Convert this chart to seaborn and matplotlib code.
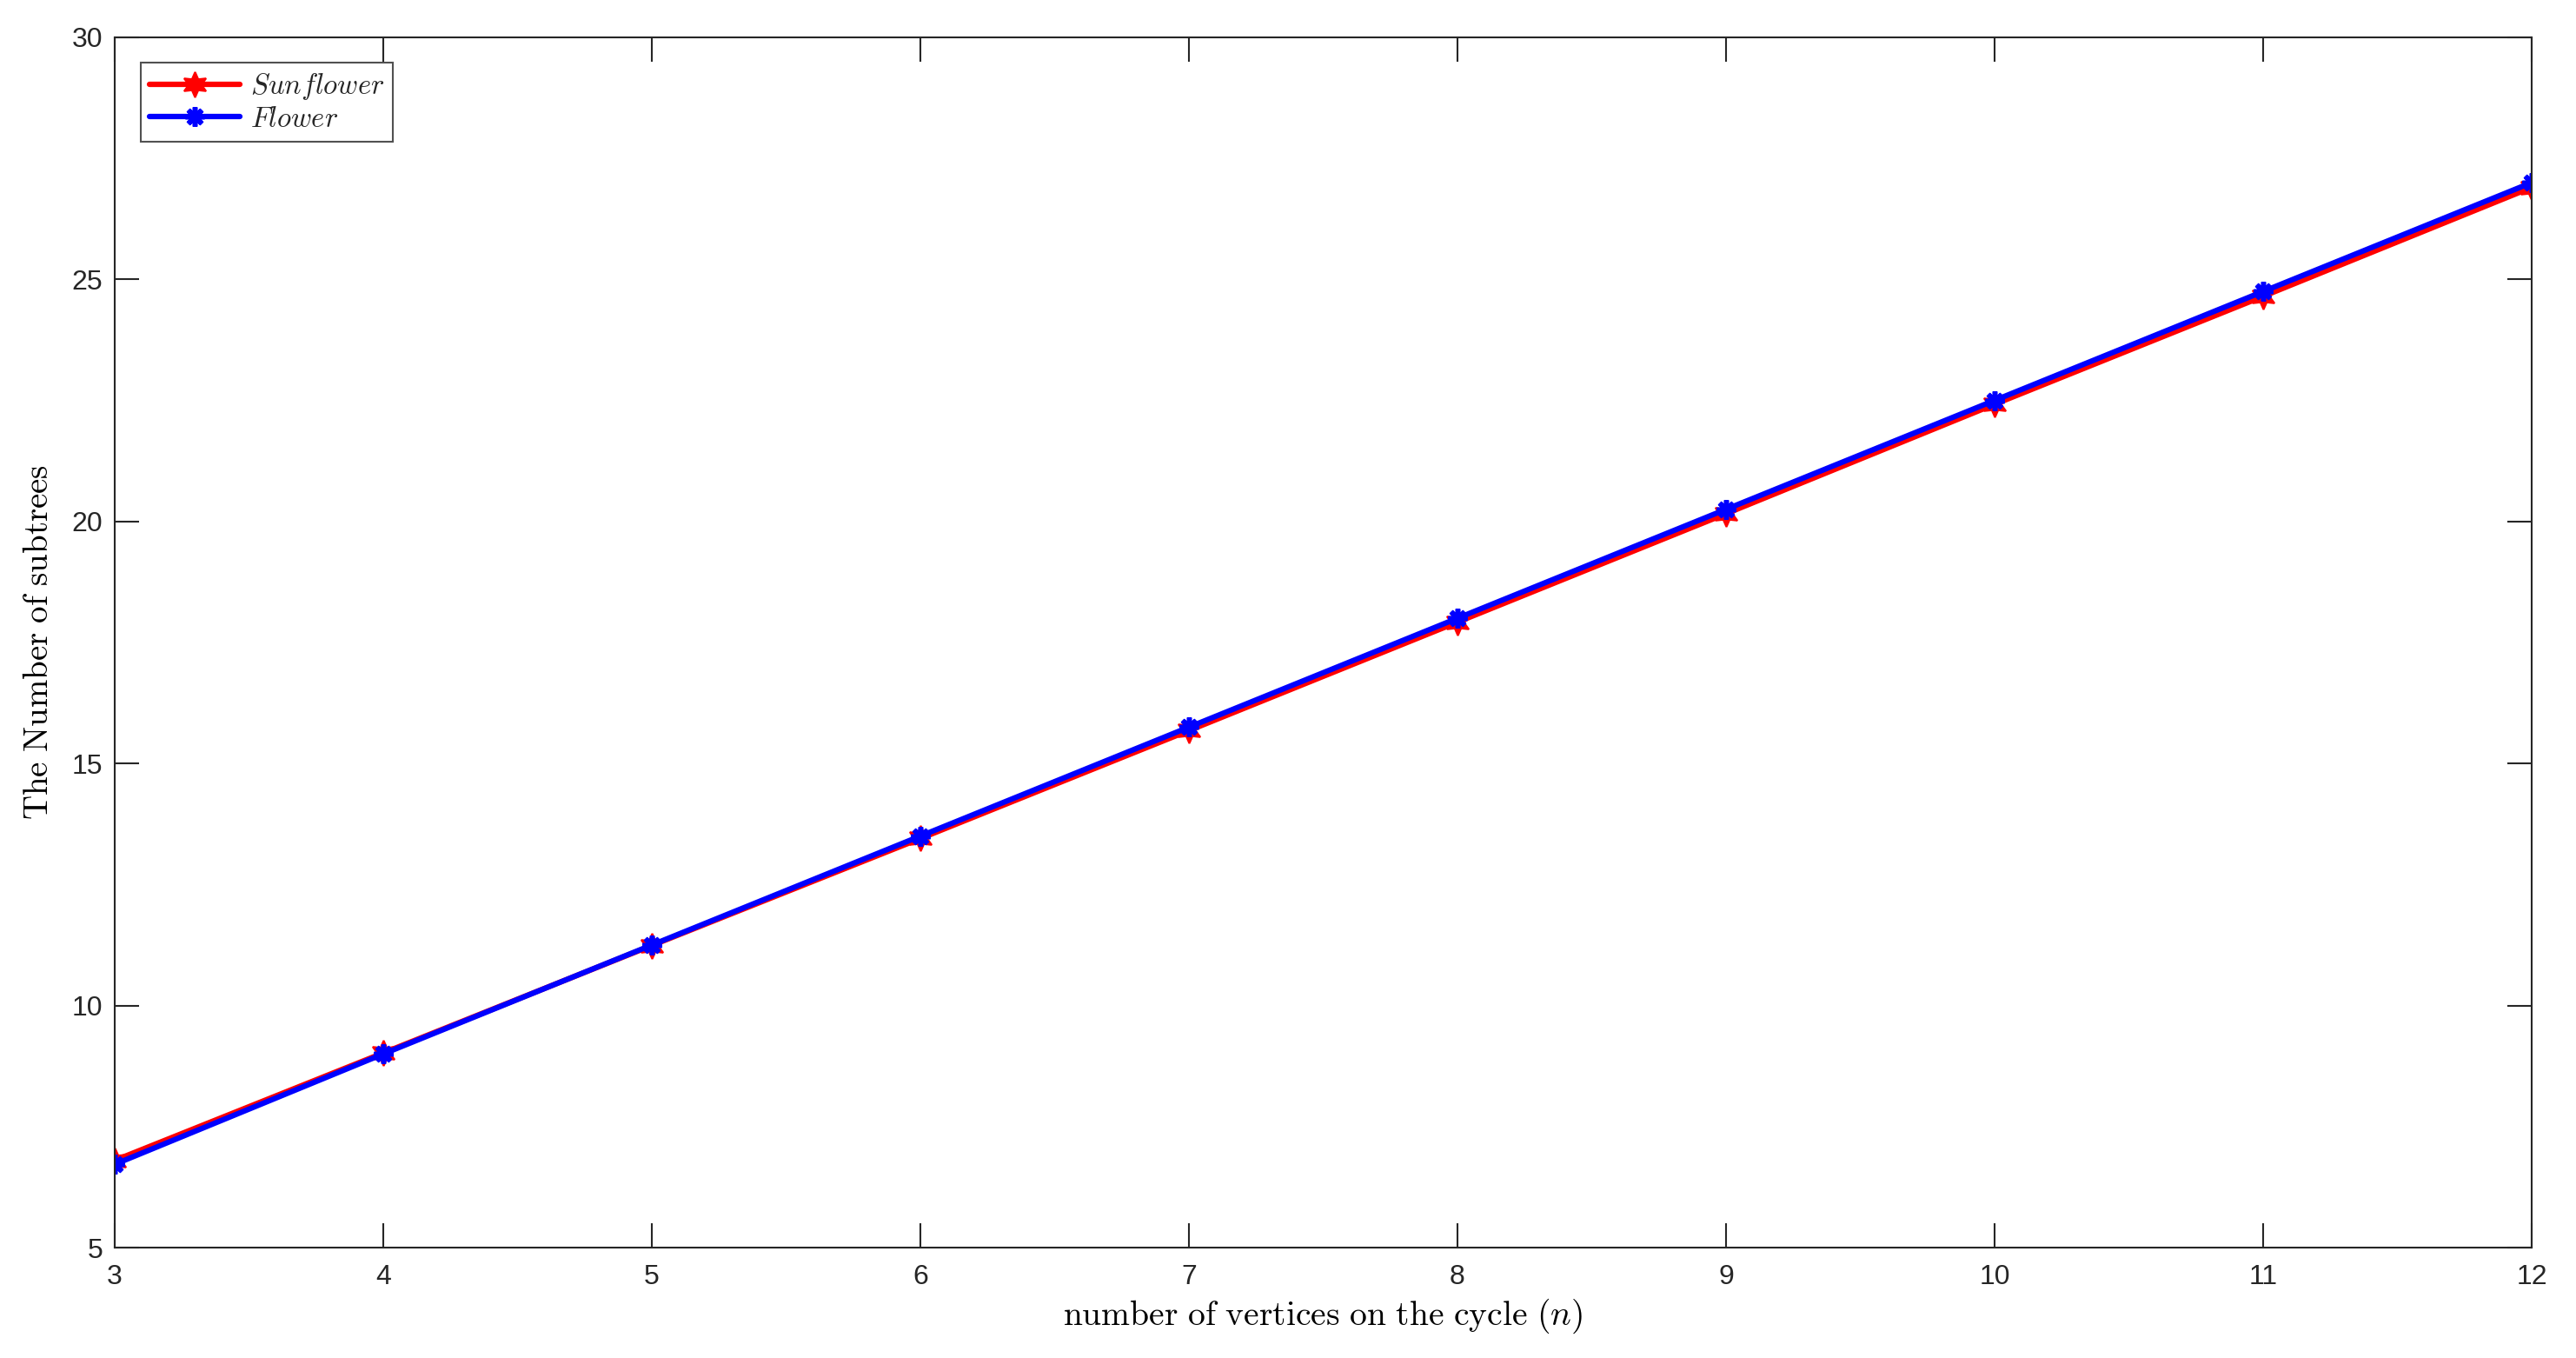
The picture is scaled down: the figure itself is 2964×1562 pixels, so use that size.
import numpy as np
import pandas as pd
import matplotlib
matplotlib.use("Agg")
import matplotlib.pyplot as plt
import seaborn as sns

n_values = [3, 4, 5, 6, 7, 8, 9, 10, 11, 12]
sunflower = [6.80, 9.02, 11.24, 13.45, 15.68, 17.92, 20.16, 22.42, 24.65, 26.90]
flower = [6.72, 9.00, 11.25, 13.50, 15.75, 18.00, 20.25, 22.50, 24.75, 27.00]
x_ticks = [3, 4, 5, 6, 7, 8, 9, 10, 11, 12]
y_ticks = [5, 10, 15, 20, 25, 30]

sns.set_style("white")
plt.rcParams['font.family'] = ['Liberation Sans', 'DejaVu Sans']
plt.rcParams['mathtext.fontset'] = 'cm'

df = pd.DataFrame({"n": n_values, "Sunflower": sunflower, "Flower": flower})

fig = plt.figure(figsize=(29.64, 15.62), dpi=100)
ax = fig.add_axes([0.0445, 0.0813, 0.9383, 0.8912])

sns.lineplot(data=df, x="n", y="Sunflower", ax=ax, color="#ff0000", lw=4.5,
             marker=(6, 1, 0), markersize=21, markerfacecolor="#ff0000",
             markeredgecolor="#ff0000", markeredgewidth=1.5,
             label=r"$Sunflower$")
sns.lineplot(data=df, x="n", y="Flower", ax=ax, color="#0000ff", lw=4.5,
             marker=(8, 2, 0), markersize=16, markeredgecolor="#0000ff",
             markeredgewidth=4, label=r"$Flower$")

ax.set_xlim(3, 12)
ax.set_ylim(5, 30)
ax.set_xticks(x_ticks)
ax.set_yticks(y_ticks)
ax.tick_params(direction="in", length=20, width=1.5, colors="#262626",
               labelsize=23, top=True, right=True, bottom=True, left=True)
ax.tick_params(axis="x", pad=14)
ax.tick_params(axis="y", pad=10)
for s in ax.spines.values():
    s.set_visible(True)
    s.set_color("#262626")
    s.set_linewidth(1.5)

ax.set_xlabel(r"$\mathrm{number\ of\ vertices\ on\ the\ cycle}\ (n)$", fontsize=28.5,
              color="black", labelpad=5)
ax.set_ylabel(r"$\mathrm{The\ Number\ of\ subtrees}$", fontsize=28,
              color="black", labelpad=14)

leg = ax.legend(loc="upper left", bbox_to_anchor=(0.0108, 0.979), fontsize=23.5,
                frameon=True, fancybox=False, edgecolor="#262626",
                handlelength=3.2, borderpad=0.3, labelspacing=0.15,
                handletextpad=0.35, borderaxespad=0)
leg.get_frame().set_linewidth(1.5)

fig.savefig("out.png", dpi=100, facecolor="white")
